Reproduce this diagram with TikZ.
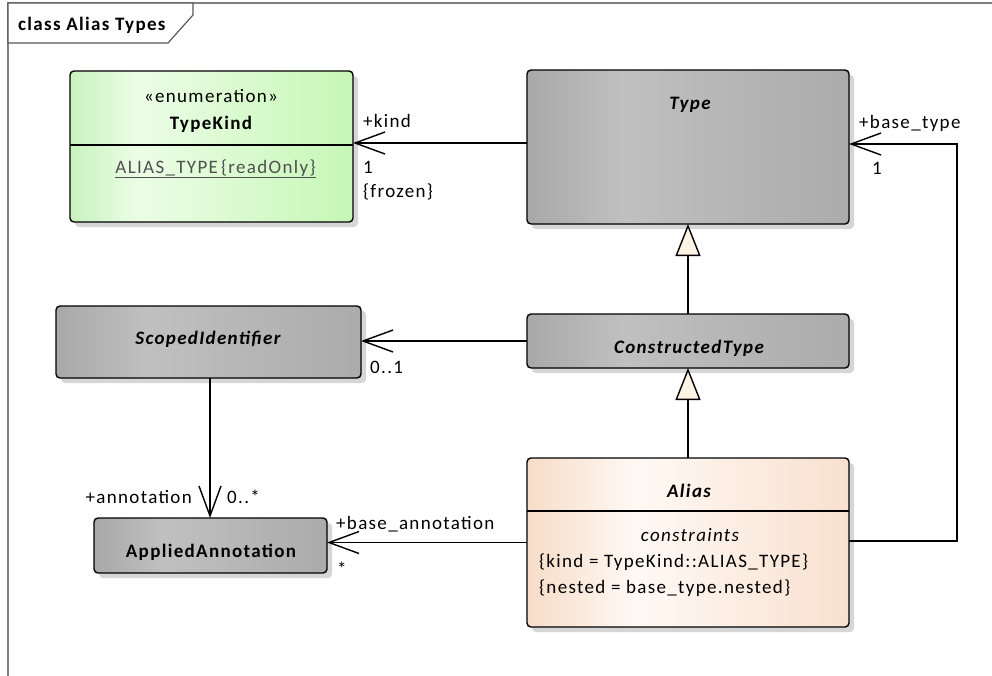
\documentclass[tikz,border=0pt]{standalone}
\usepackage{fontspec}
\setmainfont{Carlito}[LetterSpace=7]
\usetikzlibrary{arrows.meta,calc}
\definecolor{gA}{HTML}{A8A8A8}
\definecolor{gB}{HTML}{C0C0C0}
\definecolor{gC}{HTML}{ABABAB}
\definecolor{nA}{HTML}{C8F2BE}
\definecolor{nB}{HTML}{ECFDE6}
\definecolor{nC}{HTML}{C6F7B6}
\definecolor{pA}{HTML}{F7DCC8}
\definecolor{pB}{HTML}{FFF9F4}
\definecolor{pC}{HTML}{F8E0CF}
\definecolor{tri}{HTML}{FDF3E4}
\definecolor{frame}{HTML}{808080}
\definecolor{attr}{HTML}{505050}
\pgfdeclarehorizontalshading{grayshade}{100bp}{color(0bp)=(gA); color(25bp)=(gA); color(40bp)=(gB); color(75bp)=(gC); color(100bp)=(gC)}
\pgfdeclarehorizontalshading{greenshade}{100bp}{color(0bp)=(nA); color(25bp)=(nA); color(37bp)=(nB); color(75bp)=(nC); color(100bp)=(nC)}
\pgfdeclarehorizontalshading{peachshade}{100bp}{color(0bp)=(pA); color(25bp)=(pA); color(42bp)=(pB); color(75bp)=(pC); color(100bp)=(pC)}
\newcommand\fs{\fontsize{19}{22}\selectfont}
\begin{document}
\begin{tikzpicture}[x=1pt,y=-1pt,
  umlbox/.style={draw=black, line width=1.4pt, rounded corners=4pt, inner sep=0pt, outer sep=0pt,
    preaction={fill=black!16, transform canvas={xshift=5pt,yshift=-5pt}}},
  graybox/.style={umlbox, shading=grayshade},
  greenbox/.style={umlbox, shading=greenshade},
  peachbox/.style={umlbox, shading=peachshade},
  lab/.style={font=\fs, inner sep=0pt, anchor=base west},
  clab/.style={font=\fs, inner sep=0pt, anchor=base},
  conn/.style={line width=1.4pt, draw=black},
  nav/.style={conn, -{Straight Barb[length=30pt,width=22pt,line width=1.4pt]}},
  gen/.style={conn, -{Triangle[length=32pt,width=25pt,fill=tri,line width=1.4pt]}}
]
\useasboundingbox (0,0) rectangle (992,675);
\fill[white] (0,0) rectangle (992,675);
% frame
\draw[frame, line width=1.6pt] (8,676) -- (8,3) -- (993,3);
\draw[fill=white, draw=black!65, line width=1.2pt] (8,3) -- (193,3) -- (193,15) -- (168,43) -- (8,43) -- cycle;
\node[lab, font=\fs\bfseries] (title) at (18,30) {class Alias Types};

% boxes
\node[greenbox, minimum width=283pt, minimum height=151pt] (typekind) at (211.5,146.5) {};
\node[graybox, minimum width=322pt, minimum height=154pt] (type) at (688,147) {};
\node[graybox, minimum width=305pt, minimum height=72pt] (scoped) at (208.5,342) {};
\node[graybox, minimum width=322pt, minimum height=54pt] (ctype) at (688,341) {};
\node[graybox, minimum width=233pt, minimum height=55pt] (applied) at (210.5,545.5) {};
\node[peachbox, minimum width=322pt, minimum height=169pt] (alias) at (688,542.5) {};

% dividers
\coordinate (tkdiv) at (70,145);
\draw[line width=1.4pt] (tkdiv -| typekind.west) -- (tkdiv -| typekind.east);
\coordinate (aldiv) at (527,511);
\draw[line width=1.4pt] (aldiv -| alias.west) -- (aldiv -| alias.east);

% box texts
\node[clab] (tkster) at (211,102) {«enumeration»};
\node[clab, font=\fs\bfseries] (tkname) at (211,129) {TypeKind};
\node[clab, text=attr] (tkattr) at (215.5,173) {\underline{ALIAS\_TYPE\,\{readOnly\}}};
\node[clab, font=\fs\bfseries\itshape] (typename) at (690,109) {Type};
\node[clab, font=\fs\bfseries\itshape] (scname) at (208,344) {ScopedIdentifier};
\node[clab, font=\fs\bfseries\itshape] (ctname) at (689,353) {ConstructedType};
\node[clab, font=\fs\bfseries] (apname) at (211,557) {AppliedAnnotation};
\node[clab, font=\fs\bfseries\itshape] (alname) at (689,497) {Alias};
\node[clab, font=\fs\itshape] (alcons) at (690,541) {constraints};
\node[lab] (alc1) at (539,567) {\{kind = TypeKind::ALIAS\_TYPE\}};
\node[lab] (alc2) at (539,593) {\{nested = base\_type.nested\}};

% connectors
\draw[nav] ([yshift=4pt]type.west) -- ([yshift=4pt]type.west -| typekind.east);
\draw[nav] ([yshift=1.5pt]alias.east) -- ++(108,0) |- ([yshift=3pt]type.east);
\draw[gen] (ctype.north) -- (type.south);
\draw[gen] (alias.north) -- (ctype.south);
\draw[nav] (ctype.west) -- (ctype.west -| scoped.east);
\draw[nav] ([xshift=1.5pt]scoped.south) -- ([xshift=1.5pt]scoped.south |- applied.north);
\draw[nav] (alias.west) -- (alias.west -| applied.east);

% connector labels
\node[lab] (lkind) at (363,127) {+kind};
\node[lab] (lkind1) at (363,173) {1};
\node[lab] (lfrozen) at (363,197) {\{frozen\}};
\node[lab] (lbt) at (859,128) {+base\_type};
\node[lab] (lbt1) at (872,174) {1};
\node[lab] (lsc) at (370,373) {0..1};
\node[lab, anchor=base east] (lann) at (192,503) {+annotation};
\node[lab] (lann2) at (227,503) {0..*};
\node[lab] (lba) at (336,529) {+base\_annotation};
\node[lab] (lba2) at (337,575) {*};
\end{tikzpicture}
\end{document}
